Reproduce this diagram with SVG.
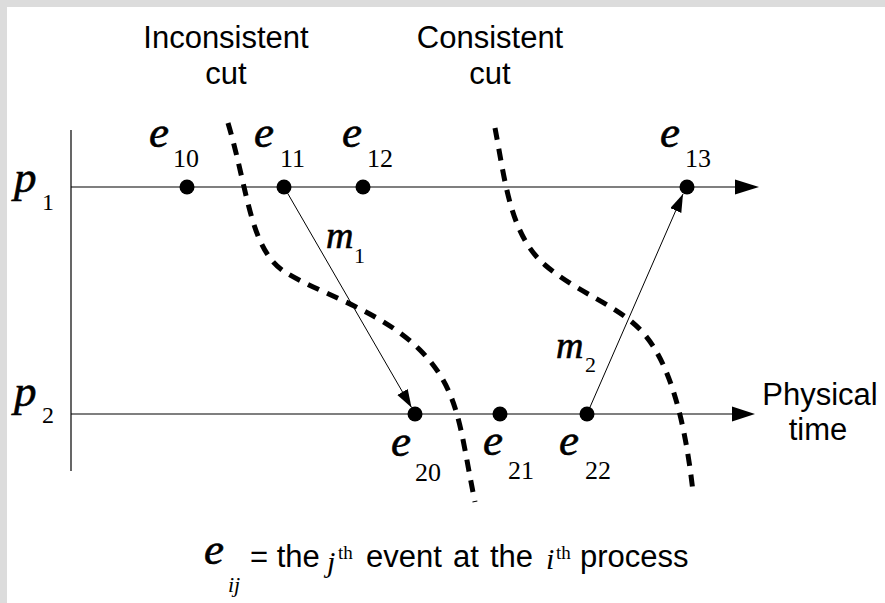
<svg xmlns="http://www.w3.org/2000/svg" width="885" height="603" viewBox="0 0 885 603">
<style>
.t{font-family:"Liberation Sans",Arial,sans-serif;font-size:31px;fill:#000}
.e{font-family:"Liberation Serif","Times New Roman",serif;font-style:italic;font-size:45px;fill:#000;stroke:#000;stroke-width:0.6}
.s{font-family:"Liberation Serif","Times New Roman",serif;font-size:26px;fill:#000}
.ax{stroke:#000;stroke-width:1.2;fill:none}
.msg{stroke:#000;stroke-width:1;fill:none}
.cut{stroke:#000;stroke-width:5;fill:none;stroke-dasharray:12 9}
.dot{fill:#000}
</style>
<defs>
<marker id="ah" markerUnits="userSpaceOnUse" markerWidth="20" markerHeight="14" refX="18" refY="6" orient="auto">
<path d="M0,0 L18,6 L0,12 Z" fill="#000"/>
</marker>
</defs>
<rect x="0" y="0" width="885" height="603" fill="#dcdcdc"/>
<rect x="7" y="7" width="878" height="596" fill="#fff"/>
<g id="titles">
<text class="t" x="226" y="48" text-anchor="middle">Inconsistent</text>
<text class="t" x="226" y="84" text-anchor="middle">cut</text>
<text class="t" x="490" y="48" text-anchor="middle">Consistent</text>
<text class="t" x="490" y="84" text-anchor="middle">cut</text>
<text class="t" x="820" y="405" text-anchor="middle">Physical</text>
<text class="t" x="818" y="440" text-anchor="middle">time</text>
</g>
<g id="axes">
<line class="ax" x1="71" y1="130" x2="71" y2="471"/>
<line class="ax" x1="71" y1="187" x2="740" y2="187"/>
<polygon points="735,179.5 759,187 735,194.5" fill="#000"/>
<line class="ax" x1="71" y1="414" x2="736" y2="414"/>
<polygon points="732,406.5 755,414 732,421.5" fill="#000"/>
</g>
<g id="p1"><text class="e" x="14" y="192">p</text><text class="s" x="42" y="210" style="font-size:24px">1</text></g>
<g id="p2"><text class="e" x="14" y="406">p</text><text class="s" x="42" y="423" style="font-size:24px">2</text></g>
<g id="connectors">
<line class="msg" x1="284" y1="187" x2="411.5" y2="407.5" marker-end="url(#ah)"/>
<line class="msg" x1="587" y1="414" x2="683" y2="194" marker-end="url(#ah)"/>
<path class="cut" d="M228,123 C248,190 250,250 285,272 S380,310 420,350 S460,430 475,502"/>
<path class="cut" d="M495,128 C505,180 510,235 545,265 S620,305 645,335 S685,420 693,492"/>
</g>
<g id="m1"><text class="e" x="326" y="248" style="font-size:38px">m</text><text class="s" x="354" y="263" style="font-size:22px">1</text></g>
<g id="m2"><text class="e" x="556" y="358" style="font-size:38px">m</text><text class="s" x="585" y="372" style="font-size:22px">2</text></g>
<g id="e10"><circle class="dot" cx="187" cy="187" r="7.5"/><text class="e" x="149" y="147">e</text><text class="s" x="173" y="167">10</text></g>
<g id="e11"><circle class="dot" cx="284" cy="187" r="7.5"/><text class="e" x="254" y="147">e</text><text class="s" x="280" y="167">11</text></g>
<g id="e12"><circle class="dot" cx="363" cy="187" r="7.5"/><text class="e" x="342" y="147">e</text><text class="s" x="367" y="167">12</text></g>
<g id="e13"><circle class="dot" cx="687" cy="187" r="7.5"/><text class="e" x="660" y="147">e</text><text class="s" x="685" y="167">13</text></g>
<g id="e20"><circle class="dot" cx="415" cy="414" r="7.5"/><text class="e" x="391" y="456">e</text><text class="s" x="415" y="481">20</text></g>
<g id="e21"><circle class="dot" cx="500" cy="414" r="7.5"/><text class="e" x="483" y="455">e</text><text class="s" x="508" y="479">21</text></g>
<g id="e22"><circle class="dot" cx="587" cy="414" r="7.5"/><text class="e" x="559" y="455">e</text><text class="s" x="585" y="479">22</text></g>
<g id="legend">
<text class="e" x="204" y="564">e</text>
<text class="s" x="228" y="592" style="font-style:italic;font-size:22px">ij</text>
<text class="t" x="250" y="567">= the</text>
<text class="s" x="327" y="572" style="font-style:italic;font-size:30px">j</text>
<text class="s" x="338" y="559" style="font-size:19px">th</text>
<text class="t" x="366" y="567">event</text>
<text class="t" x="453" y="567">at</text>
<text class="t" x="490" y="567">the</text>
<text class="s" x="546" y="569" style="font-style:italic;font-size:30px">i</text>
<text class="s" x="556" y="559" style="font-size:19px">th</text>
<text class="t" x="580" y="567">process</text>
</g>
</svg>
